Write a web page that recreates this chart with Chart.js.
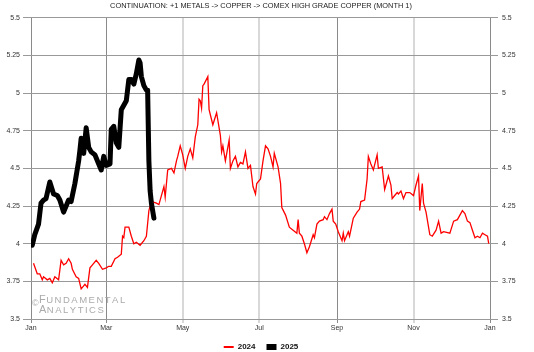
<!DOCTYPE html>
<html>
<head>
<meta charset="utf-8">
<title>COMEX High Grade Copper</title>
<script src="https://cdn.jsdelivr.net/npm/chart.js@4.4.1/dist/chart.umd.min.js"></script>
<style>
  html, body { margin: 0; padding: 0; background: #fff; }
  canvas { display: block; }
</style>
</head>
<body>
<canvas id="grafico" width="534" height="352"></canvas>
<script>
// Eje x: dia del año donde parte cada mes y su etiqueta
const diasMes = [0, 60, 121, 182, 244, 305, 366];
const etiquetasMes = ["Jan", "Mar", "May", "Jul", "Sep", "Nov", "Jan"];
const ticksY = [3.5, 3.75, 4, 4.25, 4.5, 4.75, 5, 5.25, 5.5];

// Serie 2024 (dia del año, precio)
const dias2024 = [2, 5, 7, 9, 10, 13, 15, 17, 19, 22, 24, 26, 28, 30, 32, 33, 36, 38, 40, 42, 43, 45, 47, 49, 52, 54, 57, 60, 62, 64, 67, 69, 72, 73, 74, 75, 78, 80, 82, 84, 87, 90, 92, 94, 96, 100, 102, 106, 107, 109, 112, 114, 116, 117, 119, 121, 123, 125, 127, 129, 131, 133, 134, 135, 136, 137, 138, 141, 142, 145, 148, 151, 152, 153, 155, 158, 159, 161, 163, 165, 167, 169, 171, 173, 175, 177, 179, 180, 183, 185, 187, 189, 191, 193, 194, 197, 199, 200, 203, 206, 209, 212, 213, 214, 216, 218, 220, 222, 225, 226, 228, 230, 233, 234, 236, 238, 240, 241, 243, 245, 248, 249, 250, 253, 254, 257, 260, 262, 263, 266, 268, 269, 271, 273, 276, 277, 280, 282, 285, 287, 288, 290, 292, 293, 295, 297, 299, 302, 305, 307, 309, 310, 312, 313, 315, 318, 320, 323, 325, 327, 329, 334, 337, 340, 342, 344, 346, 348, 350, 352, 354, 356, 358, 360, 362, 364, 365];
const valores2024 = [3.87, 3.80, 3.80, 3.76, 3.78, 3.76, 3.77, 3.74, 3.78, 3.76, 3.89, 3.86, 3.87, 3.90, 3.87, 3.83, 3.78, 3.77, 3.70, 3.72, 3.73, 3.71, 3.84, 3.86, 3.89, 3.87, 3.83, 3.84, 3.85, 3.85, 3.90, 3.91, 3.93, 4.05, 4.04, 4.11, 4.11, 4.05, 4.00, 4.01, 3.99, 4.02, 4.05, 4.22, 4.28, 4.27, 4.26, 4.38, 4.31, 4.49, 4.50, 4.47, 4.55, 4.58, 4.65, 4.59, 4.50, 4.58, 4.63, 4.57, 4.71, 4.79, 4.96, 4.95, 4.90, 5.05, 5.06, 5.11, 4.89, 4.79, 4.87, 4.72, 4.61, 4.65, 4.55, 4.69, 4.50, 4.55, 4.58, 4.51, 4.54, 4.53, 4.61, 4.50, 4.52, 4.38, 4.33, 4.40, 4.43, 4.55, 4.65, 4.63, 4.58, 4.51, 4.60, 4.51, 4.40, 4.24, 4.19, 4.11, 4.09, 4.07, 4.16, 4.07, 4.05, 4.00, 3.94, 3.98, 4.06, 4.04, 4.13, 4.15, 4.16, 4.18, 4.16, 4.20, 4.23, 4.15, 4.13, 4.08, 4.02, 4.07, 4.02, 4.08, 4.05, 4.17, 4.21, 4.23, 4.28, 4.29, 4.43, 4.58, 4.53, 4.49, 4.59, 4.50, 4.51, 4.36, 4.45, 4.39, 4.30, 4.32, 4.34, 4.33, 4.35, 4.30, 4.34, 4.34, 4.32, 4.39, 4.45, 4.22, 4.40, 4.27, 4.21, 4.06, 4.05, 4.09, 4.15, 4.07, 4.08, 4.07, 4.15, 4.16, 4.19, 4.22, 4.20, 4.15, 4.14, 4.09, 4.04, 4.05, 4.04, 4.07, 4.06, 4.05, 4.00];

// Serie 2025
const dias2025 = [1, 3, 6, 8, 10, 12, 15, 18, 21, 23, 26, 30, 32, 35, 38, 39, 40, 42, 44, 46, 48, 51, 54, 56, 58, 60, 63, 64, 66, 68, 70, 72, 74, 76, 78, 80, 82, 84, 86, 87, 88, 90, 92, 93, 94, 95, 96, 98];
const valores2025 = [3.99, 4.06, 4.13, 4.27, 4.29, 4.30, 4.41, 4.33, 4.32, 4.29, 4.21, 4.29, 4.28, 4.40, 4.55, 4.62, 4.70, 4.60, 4.77, 4.64, 4.61, 4.59, 4.53, 4.49, 4.58, 4.52, 4.53, 4.76, 4.78, 4.67, 4.64, 4.89, 4.92, 4.95, 5.09, 5.09, 5.06, 5.13, 5.22, 5.20, 5.11, 5.05, 5.02, 5.02, 4.55, 4.35, 4.27, 4.17];

const fuente = 'Arial, "Liberation Sans", sans-serif';
const aPuntos = (dias, valores) => dias.map((dia, i) => ({ x: dia, y: valores[i] }));

// lineas verticales: unas se ven oscuras y otras claras en el original
const lineaOscura = (i) => [0, 1, 4, 6].includes(i);

// marca de agua abajo a la izquierda
const marcaAgua = {
  id: "marcaAgua",
  beforeDatasetsDraw: (chart) => {
    const c = chart.ctx;
    const { left, bottom } = chart.chartArea;
    c.save();
    c.fillStyle = "#ababab";
    c.font = `9px ${fuente}`;
    c.fillText("©", left + 1, bottom - 15);
    const linea = (texto, x, y) => {
      c.font = `11px ${fuente}`;
      c.fillText(texto[0], x, y);
      x += c.measureText(texto[0]).width + 0.5;
      c.font = `9.5px ${fuente}`;
      for (const letra of texto.slice(1)) {
        c.fillText(letra, x, y);
        x += c.measureText(letra).width + 1.5;
      }
    };
    linea("FUNDAMENTAL", left + 8, bottom - 19);
    linea("ANALYTICS", left + 8, bottom - 9);
    c.restore();
  },
};

const ctx = document.getElementById("grafico");
const grafico = new Chart(ctx, {
  type: "line",
  data: {
    datasets: [
      {
        label: "2024",
        data: aPuntos(dias2024, valores2024),
        borderColor: "#ff0000",
        borderWidth: 1.3,
        pointRadius: 0,
        order: 1,
      },
      {
        label: "2025",
        data: aPuntos(dias2025, valores2025),
        borderColor: "#000000",
        backgroundColor: "#000000",
        borderWidth: 5,
        borderJoinStyle: "round",
        borderCapStyle: "round",
        pointRadius: 0,
        order: 0,
      },
    ],
  },
  options: {
    responsive: false,
    animation: false,
    devicePixelRatio: 1,
    layout: { padding: { left: 0, right: 12, top: 0, bottom: -9 } },
    scales: {
      x: {
        type: "linear",
        min: 0,
        max: 366,
        afterBuildTicks: (eje) => {
          eje.ticks = diasMes.map((value) => ({ value }));
        },
        afterFit: (eje) => {
          eje.height = 13;
        },
        ticks: {
          callback: (valor, i) => etiquetasMes[i],
          autoSkip: false,
          maxRotation: 0,
          padding: 1,
          color: "#333",
          font: { family: fuente, size: 7 },
        },
        grid: {
          color: (c) => (lineaOscura(c.index) ? "#8a8a8a" : "#d8d8d8"),
          lineWidth: (c) => (lineaOscura(c.index) ? 1 : 2),
          tickLength: 4,
        },
        border: { display: false },
      },
      y: {
        type: "linear",
        position: "left",
        min: 3.5,
        max: 5.5,
        afterBuildTicks: (eje) => {
          eje.ticks = ticksY.map((value) => ({ value }));
        },
        afterFit: (eje) => {
          eje.width = 31;
        },
        ticks: {
          callback: (valor) => String(valor),
          padding: 3,
          color: "#333",
          font: { family: fuente, size: 7 },
        },
        grid: { color: "#999", tickLength: 8 },
        border: { display: false },
      },
      y2: {
        type: "linear",
        position: "right",
        min: 3.5,
        max: 5.5,
        afterBuildTicks: (eje) => {
          eje.ticks = ticksY.map((value) => ({ value }));
        },
        afterFit: (eje) => {
          eje.width = 32;
        },
        ticks: {
          callback: (valor) => String(valor),
          padding: 4,
          color: "#333",
          font: { family: fuente, size: 7 },
        },
        grid: { drawOnChartArea: false, color: "#999", tickLength: 8 },
        border: { display: false },
      },
    },
    plugins: {
      title: {
        display: true,
        text: "CONTINUATION: +1 METALS -> COPPER -> COMEX HIGH GRADE COPPER (MONTH 1)",
        color: "#222",
        font: { family: fuente, size: 7.4, weight: "normal" },
        padding: { top: 2, bottom: 7 },
      },
      legend: {
        position: "bottom",
        labels: {
          usePointStyle: true,
          pointStyleWidth: 10,
          boxHeight: 6,
          padding: 11,
          color: "#111",
          font: { family: fuente, size: 8, weight: "bold" },
          sort: (a, b) => a.datasetIndex - b.datasetIndex,
          generateLabels: (chart) =>
            Chart.defaults.plugins.legend.labels.generateLabels(chart).map((item) => ({
              ...item,
              pointStyle: item.datasetIndex === 0 ? "line" : "rect",
              lineWidth: item.datasetIndex === 0 ? 2 : 0,
              fillStyle: item.strokeStyle,
            })),
        },
      },
      tooltip: { enabled: false },
    },
  },
  plugins: [marcaAgua],
});
</script>
</body>
</html>
